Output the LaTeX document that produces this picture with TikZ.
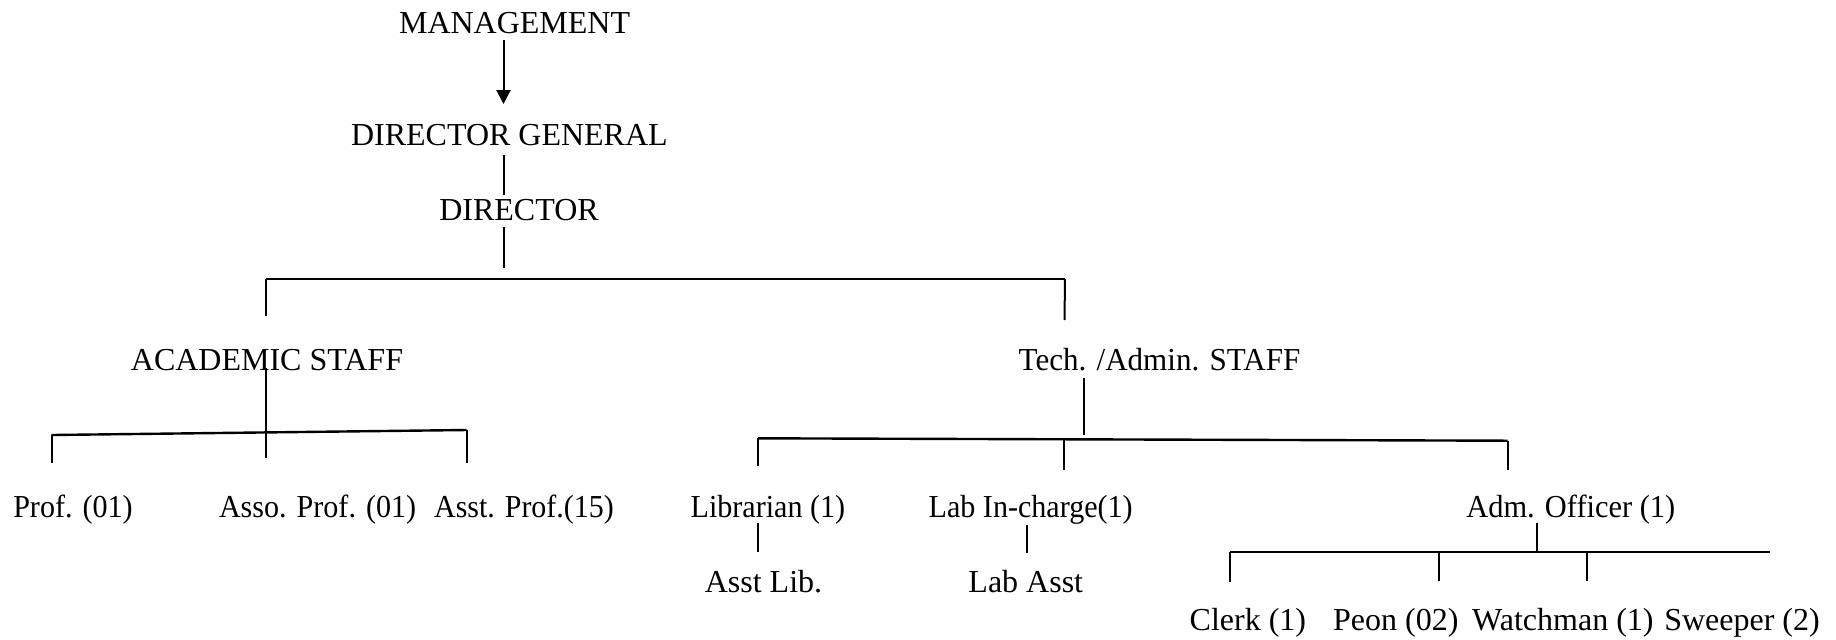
\documentclass[tikz,border=0pt]{standalone}
\usepackage{fontspec}
\setmainfont{Liberation Serif}
\usetikzlibrary{arrows.meta}
\newcommand{\cnd}[2]{\scalebox{#1}[1]{#2}}
\begin{document}
\begin{tikzpicture}[x=0.5pt,y=-0.5pt,
  lbl/.style={anchor=base,inner sep=0pt,font=\fontsize{16}{18}\selectfont},
  conn/.style={line width=1pt},
  bar/.style={line width=1.2pt}]
\useasboundingbox[fill=white] (0,0) rectangle (1836,639);
% nodes
\node[lbl] (mgmt)  at (514.6,33.3) {MANAGEMENT};
\node[lbl] (dg)    at (509.4,145) {DIRECTOR GENERAL};
\node[lbl] (dir)   at (519,220) {DIRECTOR};
\node[lbl] (acad)  at (267,370) {ACADEMIC STAFF};
\node[lbl] (tech)  at (1159.5,370) {\cnd{0.97}{Tech. /Admin. STAFF}};
\node[lbl] (prof)  at (73,517) {\cnd{0.94}{Prof. (01)}};
\node[lbl] (asso)  at (317.6,517) {\cnd{0.94}{Asso. Prof. (01)}};
\node[lbl] (asst)  at (524,517) {\cnd{0.935}{Asst. Prof.(15)}};
\node[lbl] (lib)   at (767.9,517) {\cnd{0.94}{Librarian (1)}};
\node[lbl] (lab)   at (1030.7,517) {\cnd{0.94}{Lab In-charge(1)}};
\node[lbl] (adm)   at (1570.8,517) {\cnd{0.95}{Adm. Officer (1)}};
\node[lbl] (alib)  at (763.5,592) {Asst Lib.};
\node[lbl] (lasst) at (1025.8,592) {Lab Asst};
\node[lbl] (clerk) at (1247.9,630) {Clerk (1)};
\node[lbl] (peon)  at (1395.8,630) {Peon (02)};
\node[lbl] (watch) at (1562.9,630) {Watchman (1)};
\node[lbl] (sweep) at (1742,630) {Sweeper (2)};
% coordinates
\coordinate (a1) at (503.5,40);   \coordinate (a2) at (503.5,104);
\coordinate (b1) at (503.5,155);  \coordinate (b2) at (503.5,195);
\coordinate (c1) at (503.5,227);  \coordinate (c2) at (503.5,268);
\coordinate (t1l) at (266,279);   \coordinate (t1r) at (1065,279);
\coordinate (t1ld) at (266,316);  \coordinate (t1rd) at (1064.5,320);
\coordinate (ac1) at (266.4,368); \coordinate (ac2) at (266.4,458);
\coordinate (t2l) at (51.5,435);  \coordinate (t2r) at (466.5,430);
\coordinate (t2ld) at (51.5,463); \coordinate (t2rd) at (466.5,463);
\coordinate (te1) at (1083.7,378); \coordinate (te2) at (1083.7,435);
\coordinate (t3l) at (758.2,438.3); \coordinate (t3r) at (1507.6,440.7);
\coordinate (t3ld) at (758.2,466); \coordinate (t3m) at (1064.4,440);
\coordinate (t3md) at (1064.4,470); \coordinate (t3rd) at (1507.6,470);
\coordinate (l1) at (758.2,523);  \coordinate (l2) at (758.2,552);
\coordinate (m1) at (1026.9,525); \coordinate (m2) at (1026.9,553);
\coordinate (d1) at (1537.4,523); \coordinate (d2) at (1537.4,552);
\coordinate (t4l) at (1230,552);  \coordinate (t4r) at (1770,552);
\coordinate (t4ld) at (1230,582);
\coordinate (t4a) at (1439,552);  \coordinate (t4ad) at (1439,581);
\coordinate (t4b) at (1586.6,552); \coordinate (t4bd) at (1586.6,581);
% connectors
\draw[conn,-{Triangle[length=7pt,width=7pt]}] (a1) -- (a2);
\draw[conn] (b1) -- (b2);
\draw[conn] (c1) -- (c2);
\draw[bar] (t1l) -- (t1r);
\draw[conn] (t1l) -- (t1ld);
\draw[conn] (t1r) -- (t1rd);
\draw[conn] (ac1) -- (ac2);
\draw[bar] (t2l) -- (t2r);
\draw[conn] (t2l) -- (t2ld);
\draw[conn] (t2r) -- (t2rd);
\draw[conn] (te1) -- (te2);
\draw[bar] (t3l) -- (t3r);
\draw[conn] (t3l) -- (t3ld);
\draw[conn] (t3m) -- (t3md);
\draw[conn] (t3r) -- (t3rd);
\draw[conn] (l1) -- (l2);
\draw[conn] (m1) -- (m2);
\draw[conn] (d1) -- (d2);
\draw[bar] (t4l) -- (t4r);
\draw[conn] (t4l) -- (t4ld);
\draw[conn] (t4a) -- (t4ad);
\draw[conn] (t4b) -- (t4bd);
\end{tikzpicture}
\end{document}
